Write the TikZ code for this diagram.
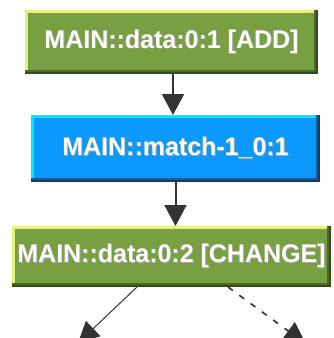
\documentclass[tikz,border=0pt]{standalone}
\usepackage{fontspec}
\setmainfont{Liberation Sans}[FakeStretch=0.98]
\usetikzlibrary{arrows.meta}

\definecolor{leaf}{HTML}{78A043}
\definecolor{leafhi}{HTML}{E6F07C}
\definecolor{leafdark}{HTML}{4B6A2A}
\definecolor{sky}{HTML}{0B98FF}
\definecolor{skyhi}{HTML}{00EAFF}
\definecolor{skydark}{HTML}{0E5C9E}
\definecolor{ink}{HTML}{333333}

% white label with a faint drop shadow
\newcommand{\shlabel}[1]{\makebox[0pt][l]{\hspace{0.8pt}\raisebox{-0.8pt}{\textcolor{black!35}{#1}}}\textcolor{white}{#1}}

\tikzset{
  bevelbox/.style n args={3}{
    rectangle, inner sep=0pt, outer sep=0pt, fill=#1,
    font=\fontsize{25.5}{29}\selectfont\bfseries,
    path picture={
      \fill[#2] (path picture bounding box.north west) rectangle ([yshift=-3pt]path picture bounding box.north east);
      \fill[#2] (path picture bounding box.north west) rectangle ([xshift=3pt]path picture bounding box.south west);
      \fill[#3] ([yshift=4pt]path picture bounding box.south west) rectangle (path picture bounding box.south east);
      \fill[#3] ([xshift=-4pt]path picture bounding box.north east) rectangle (path picture bounding box.south east);
      \fill[#3!70!black] ([yshift=2pt]path picture bounding box.south west) rectangle (path picture bounding box.south east);
      \fill[#3!70!black] ([xshift=-2pt]path picture bounding box.north east) rectangle (path picture bounding box.south east);
    }},
  greenbox/.style={bevelbox={leaf}{leafhi}{leafdark}},
  bluebox/.style={bevelbox={sky}{skyhi}{skydark}},
  flow/.style={draw=ink, line width=2pt, -{Triangle[width=22pt,length=21pt]}},
  thinflow/.style={draw=ink, line width=1pt, -{Triangle[width=21pt,length=21pt]}},
  dashflow/.style={draw=ink, line width=1.6pt, dash pattern=on 6pt off 8pt, -{Triangle[width=22pt,length=22pt]}},
}

\begin{document}
\begin{tikzpicture}[x=1pt,y=-1pt]
  \useasboundingbox (0,0) rectangle (333,338);
  \clip (0,0) rectangle (333,338);
  \fill[white] (0,0) rectangle (333,338);

  \node[greenbox, minimum width=293pt, minimum height=64pt] (add) at (171.5,42) {\shlabel{MAIN::data:0:1 [ADD]}};
  \node[bluebox, minimum width=289pt, minimum height=67pt] (match) at (175.5,148.5) {\shlabel{MAIN::match-1\_0:1}};
  \node[greenbox, minimum width=319pt, minimum height=61pt] (change) at (171.5,256.5) {\shlabel{MAIN::data:0:2 [CHANGE]}};

  % targets of the two outgoing edges lie below the visible area
  \coordinate (left) at (78,343);
  \coordinate (right) at (306,344);

  \draw[flow] ([xshift=1.5pt]add.south) -- ([xshift=1.5pt]add.south |- match.north);
  \draw[flow] (match.south) -- (match.south |- change.north);
  \draw[thinflow] ([xshift=-34.5pt]change.south) -- (left);
  \draw[dashflow] ([xshift=56.5pt]change.south) -- (right);
\end{tikzpicture}
\end{document}
